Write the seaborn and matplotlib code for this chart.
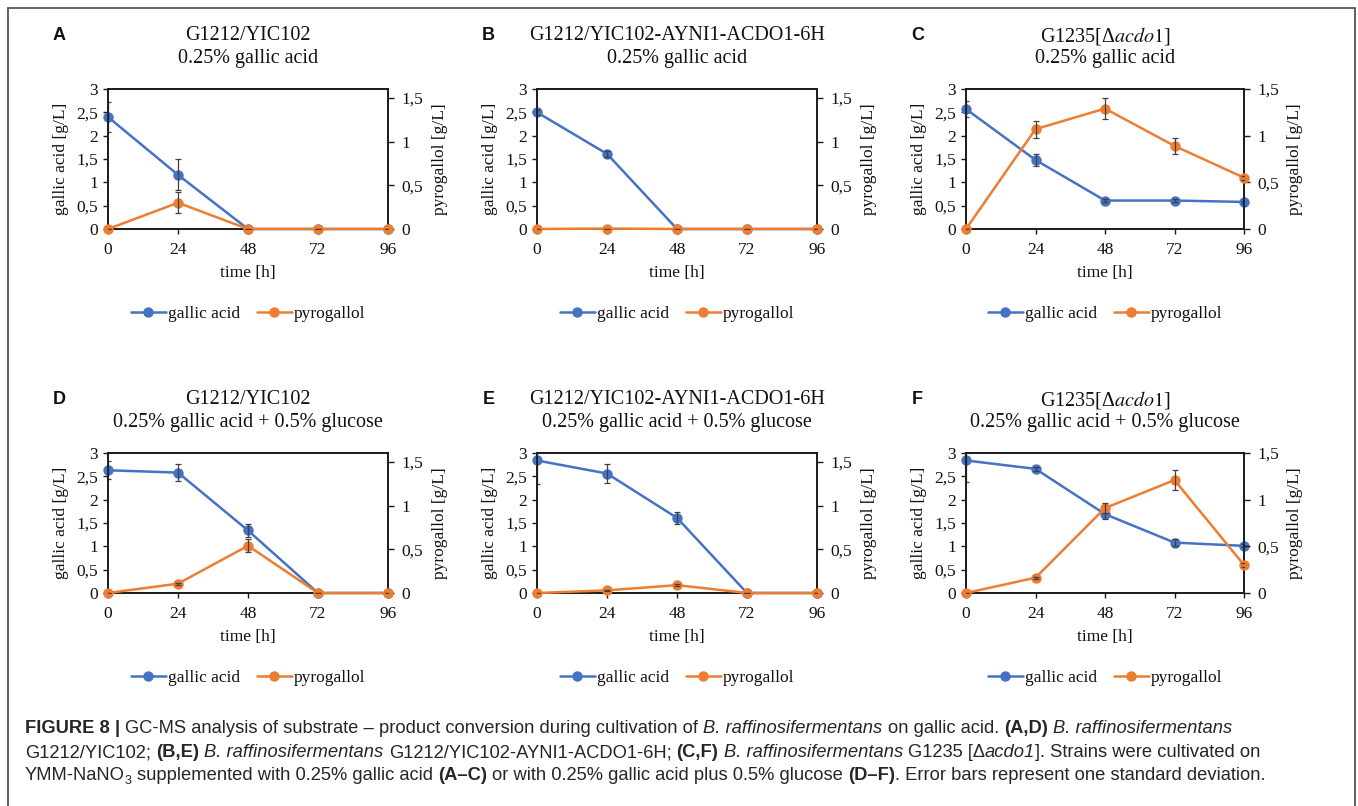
import numpy as np
import pandas as pd
import matplotlib
matplotlib.use("Agg")
import matplotlib.pyplot as plt
import seaborn as sns
from matplotlib.lines import Line2D
from matplotlib.patches import Rectangle

# ---------------- data ----------------
time_h = [0, 24, 48, 72, 96]
panel_letters = ["A", "B", "C", "D", "E", "F"]
strain_titles = ["G1212/YIC102", "G1212/YIC102-AYNI1-ACDO1-6H", r"G1235[Δ$\mathit{acdo1}$]",
                 "G1212/YIC102", "G1212/YIC102-AYNI1-ACDO1-6H", r"G1235[Δ$\mathit{acdo1}$]"]
medium_titles = ["0.25% gallic acid", "0.25% gallic acid", "0.25% gallic acid",
                 "0.25% gallic acid + 0.5% glucose", "0.25% gallic acid + 0.5% glucose",
                 "0.25% gallic acid + 0.5% glucose"]
series_names = ["gallic acid", "pyrogallol"]

gallic_A = [2.40, 1.16, 0.0, 0.0, 0.0]
gallic_A_err = [0.32, 0.33, 0.0, 0.0, 0.0]
pyro_A = [0.0, 0.30, 0.0, 0.0, 0.0]
pyro_A_err = [0.0, 0.12, 0.0, 0.0, 0.0]

gallic_B = [2.50, 1.61, 0.0, 0.0, 0.0]
gallic_B_err = [0.05, 0.07, 0.0, 0.0, 0.0]
pyro_B = [0.0, 0.005, 0.0, 0.0, 0.0]
pyro_B_err = [0.0, 0.0, 0.0, 0.0, 0.0]

gallic_C = [2.57, 1.48, 0.61, 0.61, 0.58]
gallic_C_err = [0.17, 0.12, 0.03, 0.03, 0.03]
pyro_C = [0.0, 1.07, 1.29, 0.89, 0.55]
pyro_C_err = [0.0, 0.09, 0.11, 0.09, 0.02]

gallic_D = [2.63, 2.58, 1.34, 0.0, 0.0]
gallic_D_err = [0.19, 0.19, 0.14, 0.0, 0.0]
pyro_D = [0.0, 0.107, 0.54, 0.0, 0.0]
pyro_D_err = [0.0, 0.01, 0.077, 0.0, 0.0]

gallic_E = [2.84, 2.56, 1.61, 0.0, 0.0]
gallic_E_err = [0.5, 0.2, 0.13, 0.0, 0.0]
pyro_E = [0.0, 0.03, 0.09, 0.0, 0.0]
pyro_E_err = [0.0, 0.01, 0.01, 0.0, 0.0]

gallic_F = [2.84, 2.66, 1.69, 1.08, 1.01]
gallic_F_err = [0.46, 0.04, 0.10, 0.08, 0.03]
pyro_F = [0.0, 0.164, 0.91, 1.21, 0.30]
pyro_F_err = [0.0, 0.01, 0.05, 0.11, 0.02]

gallic_all = [gallic_A, gallic_B, gallic_C, gallic_D, gallic_E, gallic_F]
gallic_err_all = [gallic_A_err, gallic_B_err, gallic_C_err, gallic_D_err, gallic_E_err, gallic_F_err]
pyro_all = [pyro_A, pyro_B, pyro_C, pyro_D, pyro_E, pyro_F]
pyro_err_all = [pyro_A_err, pyro_B_err, pyro_C_err, pyro_D_err, pyro_E_err, pyro_F_err]
pyro_ymax = [1.6, 1.6, 1.5, 1.6, 1.6, 1.5]

left_ticks = [0, 0.5, 1, 1.5, 2, 2.5, 3]
left_ticklabels = ["0", "0,5", "1", "1,5", "2", "2,5", "3"]
right_ticks = [0, 0.5, 1, 1.5]
right_ticklabels = ["0", "0,5", "1", "1,5"]

# caption runs: (text, style)  b=bold, i=italic, s=subscript
caption_line1 = [("FIGURE 8 | ", "b"),
                 ("GC-MS analysis of substrate – product conversion during cultivation of ", ""),
                 ("B. raffinosifermentans", "i"), (" on gallic acid. ", ""),
                 ("(A,D)", "b"), (" ", ""), ("B. raffinosifermentans", "i")]
caption_line2 = [("G1212/YIC102; ", ""), ("(B,E)", "b"), (" ", ""),
                 ("B. raffinosifermentans", "i"), (" G1212/YIC102-AYNI1-ACDO1-6H; ", ""),
                 ("(C,F)", "b"), (" ", ""), ("B. raffinosifermentans", "i"),
                 (" G1235 [Δ", ""), ("acdo1", "i"), ("]. Strains were cultivated on", "")]
caption_line3 = [("YMM-NaNO", ""), ("3", "s"),
                 (" supplemented with 0.25% gallic acid ", ""), ("(A–C)", "b"),
                 (" or with 0.25% gallic acid plus 0.5% glucose ", ""), ("(D–F)", "b"),
                 (". Error bars represent one standard deviation.", "")]

# ---------------- style ----------------
sns.set_theme(style="ticks")
plt.rcParams["font.family"] = ["Liberation Serif", "DejaVu Serif"]

BLUE = "#4472C4"
ORANGE = "#ED7D31"
ERR = "#404040"
AX = "#1a1a1a"

W, H = 1358, 806
fig = plt.figure(figsize=(W / 100, H / 100), dpi=100)
fig.patch.set_facecolor("white")

# outer frame
fig.patches.append(Rectangle((8 / W, -0.01), (1355 - 8) / W, 1 - 8 / H + 0.01,
                             transform=fig.transFigure, fill=False,
                             edgecolor="#555555", linewidth=1.3))

col_x = [(108, 388), (537, 817), (966, 1244)]
row_y = [(89, 229), (453, 593)]


def fx(px):
    return px / W


def fy(py):
    return 1 - py / H


for i in range(6):
    r, c = divmod(i, 3)
    x0, x1 = col_x[c]
    y0, y1 = row_y[r]
    ax = fig.add_axes([fx(x0), fy(y1), (x1 - x0) / W, (y1 - y0) / H])
    ax2 = ax.twinx()

    df_g = pd.DataFrame({"time": time_h, "value": gallic_all[i]})
    df_p = pd.DataFrame({"time": time_h, "value": pyro_all[i]})

    sns.lineplot(data=df_g, x="time", y="value", ax=ax, color=BLUE, marker="o",
                 markersize=7.5, markeredgewidth=0, linewidth=1.8, clip_on=False,
                 zorder=3, legend=False)
    ax.errorbar(time_h, gallic_all[i], yerr=gallic_err_all[i], fmt="none",
                ecolor=ERR, elinewidth=0.9, capsize=2.5, capthick=0.9, zorder=4)

    sns.lineplot(data=df_p, x="time", y="value", ax=ax2, color=ORANGE, marker="o",
                 markersize=7.5, markeredgewidth=0, linewidth=1.8, clip_on=False,
                 zorder=3, legend=False)
    ax2.errorbar(time_h, pyro_all[i], yerr=pyro_err_all[i], fmt="none",
                 ecolor=ERR, elinewidth=0.9, capsize=2.5, capthick=0.9, zorder=4)

    ax.set_xlim(0, 96)
    ax.set_ylim(0, 3)
    ax2.set_ylim(0, pyro_ymax[i])
    ax.set_xticks(time_h)
    ax.set_xticklabels([str(t) for t in time_h])
    ax.set_yticks(left_ticks)
    ax.set_yticklabels(left_ticklabels)
    ax2.set_yticks(right_ticks)
    ax2.set_yticklabels(right_ticklabels)

    for a in (ax, ax2):
        for s in a.spines.values():
            s.set_visible(True)
            s.set_color(AX)
            s.set_linewidth(1.2)
        a.set_facecolor("none")
    ax.tick_params(axis="x", direction="out", length=3.5, width=1.0, color=AX,
                   labelsize=12.5, pad=6, labelcolor="#111111")
    ax.tick_params(axis="y", direction="out", length=3.5, width=1.0, color=AX,
                   labelsize=12.5, pad=3.5, labelcolor="#111111")
    ax2.tick_params(axis="y", direction="out", length=4, width=1.0, color=AX,
                    labelsize=12.5, pad=5.5, labelcolor="#111111")

    ax.set_xlabel("time [h]", fontsize=12.5, color="#111111")
    ax.xaxis.set_label_coords(0.5, -44 / (y1 - y0))
    ax.xaxis.label.set_va("center")
    ax.set_ylabel("gallic acid [g/L]", fontsize=12.5, color="#111111", va="center")
    ax.yaxis.set_label_coords(-0.168, 0.5)
    ax2.set_ylabel("pyrogallol [g/L]", fontsize=12.5, color="#111111", va="center",
                   rotation=90)
    ax2.yaxis.set_label_coords(1.185, 0.5)

    cx = (x0 + x1) / 2
    fig.text(fx(cx), fy(y0 - 53), strain_titles[i], ha="center", va="center",
             fontsize=14.5, color="#111111", math_fontfamily="stix")
    fig.text(fx(cx), fy(y0 - 30), medium_titles[i], ha="center", va="center",
             fontsize=14.5, color="#111111")
    fig.text(fx(x0 - 48.5), fy(y0 - 53), panel_letters[i], ha="center", va="center",
             fontsize=13, fontweight="bold", family=["Liberation Sans"], color="#111111")

    handles = [Line2D([], [], color=BLUE, marker="o", markersize=7.5, markeredgewidth=0,
                      linewidth=1.8),
               Line2D([], [], color=ORANGE, marker="o", markersize=7.5, markeredgewidth=0,
                      linewidth=1.8)]
    fig.legend(handles, series_names, loc="center", ncol=2, frameon=False,
               bbox_to_anchor=(fx(cx), fy(y1 + 85)), bbox_transform=fig.transFigure,
               fontsize=12.5, handlelength=2.0, handletextpad=0.1, columnspacing=1.0,
               labelcolor="#111111")

# ---------------- caption (mixed styles drawn run by run) ----------------
cap_family, cap_size = "Liberation Sans", 13.2
renderer = fig.canvas.get_renderer()


def ink_width(s, weight, style, size):
    t = fig.text(0, 0, s, fontsize=size, family=[cap_family], fontweight=weight,
                 fontstyle=style)
    w = t.get_window_extent(renderer).width
    t.remove()
    return w


def advance(s, weight, style, size):
    if not s:
        return 0.0
    return ink_width("H" + s + "H", weight, style, size) - ink_width("HH", weight, style, size)


def draw_runs(runs, x_px, base_px):
    x = x_px
    for txt, st in runs:
        weight = "bold" if "b" in st else "normal"
        fstyle = "italic" if "i" in st else "normal"
        size = cap_size * 0.68 if "s" in st else cap_size
        dy = 4.0 if "s" in st else 0.0
        lead = len(txt) - len(txt.lstrip(" "))
        core = txt.strip(" ")
        if core:
            xs = x + advance(" " * lead, weight, fstyle, size)
            fig.text(fx(xs), fy(base_px + dy), core, ha="left", va="baseline",
                     fontsize=size, family=[cap_family], fontweight=weight,
                     fontstyle=fstyle, color="#262626")
        x += advance(txt, weight, fstyle, size)


for runs, yy in zip([caption_line1, caption_line2, caption_line3], [733, 757, 780]):
    draw_runs(runs, 25, yy)

fig.savefig("out.png", dpi=100, facecolor="white")
